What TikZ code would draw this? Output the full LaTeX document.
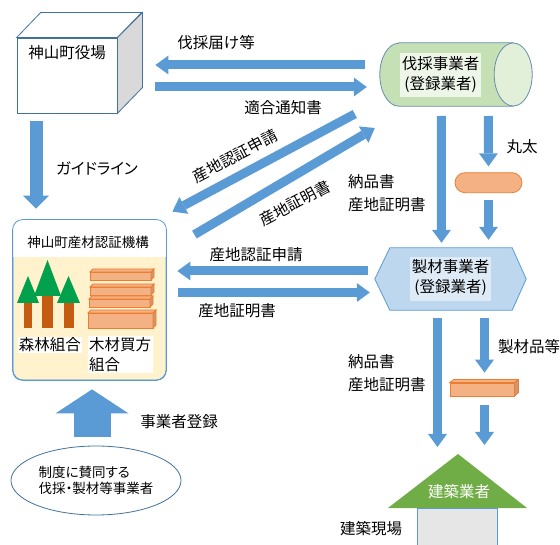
\documentclass[tikz,border=0pt]{standalone}
\usepackage{fontspec}
\newfontfamily\jpfont{Noto Sans CJK JP}
\newfontfamily\jppfont{Noto Sans CJK JP}[RawFeature=+palt]
\usetikzlibrary{shapes.geometric, shapes.misc, arrows.meta, calc, backgrounds}

\definecolor{flowblue}{HTML}{5B9BD5}
\definecolor{edgeblue}{HTML}{41719C}
\definecolor{cubeside}{HTML}{D9D9D9}
\definecolor{cylbody}{HTML}{C5E0B4}
\definecolor{cylend}{HTML}{E2F0D9}
\definecolor{cyltext}{HTML}{EEF5E9}
\definecolor{certfill}{HTML}{FFF2CC}
\definecolor{treegreen}{HTML}{00A04C}
\definecolor{trunkbrown}{HTML}{C55A11}
\definecolor{woodfill}{HTML}{F4B183}
\definecolor{woodline}{HTML}{ED7D31}
\definecolor{hexfill}{HTML}{BDD7EE}
\definecolor{hextext}{HTML}{DEEBF7}
\definecolor{roofgreen}{HTML}{70AD47}
\definecolor{sitefill}{HTML}{E7E6E6}

\setlength{\fboxsep}{2pt}

\begin{document}
\begin{tikzpicture}[x=1pt, y=-1pt, every node/.style={font=\jpfont\fontsize{15.5}{20}\selectfont, inner sep=0pt}]
\useasboundingbox (0,0) rectangle (560,545);
\tikzstyle{blockarrow} = [draw=flowblue, line width=9pt, -{Triangle[width=19pt, length=13pt, line width=0pt]}]
\tikzstyle{widearrow} = [draw=flowblue, line width=13pt, -{Triangle[width=26pt, length=13pt, line width=0pt]}]
\tikzstyle{bigarrow} = [draw=flowblue, line width=37pt, -{Triangle[width=73pt, length=24pt, line width=0pt]}]
\tikzstyle{twoline} = [align=left, anchor=west, font=\jpfont\fontsize{15.5}{23}\selectfont]
\tikzstyle{smalltext} = [font=\jpfont\fontsize{13.5}{15.5}\selectfont]
\tikzstyle{plank} = [draw=woodline, fill=woodfill, line width=0.8pt]
% Nodes
% town office as a box
\node (town) [draw=edgeblue, fill=white, line width=0.8pt, minimum width=100pt, minimum height=75pt] at (67,75.5) {};
\filldraw[draw=edgeblue, fill=white, line width=0.8pt] (town.north west) -- ++(24,-25) -- ++(101,0) -- (town.north east) -- cycle;
\filldraw[draw=edgeblue, fill=cubeside, line width=0.8pt] (town.north east) -- ++(25,-25) -- ++(0,75) -- (town.south east) -- cycle;
\node (townname) at (67,53) {神山町役場};

% loggers: a log lying on its side
\node (logger) [minimum width=121pt, minimum height=63pt] at (440.5,75.5) {\colorbox{cyltext}{\begin{tabular}{@{}c@{}}伐採事業者\\(登録業者)\end{tabular}}};
\begin{scope}[on background layer]
\filldraw[draw=edgeblue!80, fill=cylbody, line width=0.8pt] ($(logger.north west)+(19,-1)$) -- ($(logger.north east)+(12,-1)$) -- ($(logger.south east)+(12,-1)$) -- ($(logger.south west)+(19,-1)$) arc[start angle=270, end angle=90, x radius=19pt, y radius=31.5pt] -- cycle;
\filldraw[draw=edgeblue!80, fill=cylend, line width=0.8pt] ($(logger.east)+(12,-1)$) ellipse[x radius=19pt, y radius=31.5pt];
\end{scope}

% certification body
\node (cert) [draw=flowblue, fill=certfill, line width=0.8pt, rounded corners=10pt, minimum width=153pt, minimum height=160pt] at (89.5,300) {};
\begin{scope}
\clip[rounded corners=10pt] (cert.south west) rectangle (cert.north east);
\fill[white] (cert.north west) rectangle ($(cert.north east)+(0,37)$);
\end{scope}
\draw[flowblue, line width=0.8pt, rounded corners=10pt] (cert.south west) rectangle (cert.north east);
\node (certname) [smalltext] at (88,242) {神山町産材認証機構};
\foreach \x/\top/\base/\half/\tw in {28/276/303/11/4, 47.5/260/296/13.5/5.5, 68.5/276/303/11.5/5}{
  \fill[trunkbrown] (\x-\tw,\base-3) rectangle (\x+\tw,328);
  \fill[treegreen] (\x,\top) -- (\x+\half,\base) -- (\x-\half,\base) -- cycle;
}
\foreach \xa/\ya/\xb/\yb in {90/272/151/280, 90/287/151/295, 89/299/150/307, 88/313/153/328}{
  \filldraw[plank] (\xa,\ya) rectangle (\xb,\yb);
  \filldraw[plank, fill=woodfill!85!black] (\xb,\ya) -- ++(3,-3) -- ++(0,\yb-\ya) -- (\xb,\yb) -- cycle;
  \filldraw[plank] (\xa,\ya) -- ++(3,-3) -- (\xb+3,\ya-3) -- (\xb,\ya) -- cycle;
}
\node (forest) [fill=white, inner sep=1pt] at (50,345) {森林組合};
\node (buyers) [fill=white, inner sep=1pt, align=left, anchor=north west, text width=63pt] at (88,336) {木材買方\\組合};

% sawmill
\node (sawmill) [minimum width=151pt, minimum height=62pt] at (450.5,279) {\colorbox{hextext}{\begin{tabular}{@{}c@{}}製材事業者\\(登録業者)\end{tabular}}};
\begin{scope}[on background layer]
\filldraw[draw=flowblue, fill=hexfill, line width=0.8pt] (sawmill.west) -- ($(sawmill.north west)+(15,0)$) -- ($(sawmill.north east)+(-14,0)$) -- (sawmill.east) -- ($(sawmill.south east)+(-14,0)$) -- ($(sawmill.south west)+(15,0)$) -- cycle;
\end{scope}

\node (log) [rounded rectangle, draw=woodline, fill=woodfill, line width=0.8pt, minimum width=67pt, minimum height=20pt] at (488.5,182.7) {};
\node (product) [plank, minimum width=64pt, minimum height=13pt] at (482,389.5) {};
\filldraw[plank, fill=woodfill!85!black] (product.north east) -- ++(4,-3) -- ++(0,13) -- (product.south east) -- cycle;
\filldraw[plank] (product.north west) -- ++(4,-3) -- ++(64,0) -- (product.north east) -- cycle;

% building site
\coordinate (roof) at (458,454);
\fill[roofgreen] (roof) -- ++(69,54) -- ++(-139,0) -- cycle;
\filldraw[draw=flowblue, fill=sitefill, line width=0.8pt] (417,508) rectangle (497,550);
\node (builder) [text=white] at (459,492) {建築業者};

\node (applicants) [ellipse, draw=edgeblue, line width=0.8pt, minimum width=170pt, minimum height=69pt, align=left, font=\jppfont\fontsize{13.5}{15.5}\selectfont] at (96,480.5) {制度に賛同する\\伐採・製材等事業者};

% Arrows
\draw [blockarrow] ($(logger.west)+(-15,-10.5)$) -- ($(town.east)+(38,-10.5)$);
\draw [blockarrow] ($(town.east)+(38,11.5)$) -- ($(logger.west)+(-13,11.5)$);
\draw [blockarrow] ($(logger.west)+(-25,38.5)$) -- ($(cert.north east)+(6,-8)$);
\draw [blockarrow] ($(cert.north east)+(28,15)$) -- ($(logger.west)+(-5,52.5)$);
\draw [widearrow] ($(town.south)+(-31,8)$) -- ($(cert.north)+(-53.5,-11)$);
\draw [blockarrow] ($(sawmill.west)+(-7,-8)$) -- ($(cert.east)+(11,-29)$);
\draw [blockarrow] ($(cert.east)+(12,-7.5)$) -- ($(sawmill.west)+(-5,13.5)$);
\draw [blockarrow] ($(logger.west)+(61.5,40.5)$) -- ($(sawmill.north)+(-9,-5)$);
\draw [blockarrow] ($(logger.west)+(108.5,40.5)$) -- ($(log.north)+(0,-6)$);
\draw [blockarrow] ($(log.south)+(0,7)$) -- ($(sawmill.north)+(38,-8)$);
\draw [blockarrow] ($(sawmill.south)+(-13,8)$) -- ($(roof)+(-20.5,-7)$);
\draw [blockarrow] ($(sawmill.south)+(34,8)$) -- ($(product.north)+(2.5,-10)$);
\draw [blockarrow] ($(product.south)+(2.5,9)$) -- ($(roof)+(26.5,-9)$);
\draw [bigarrow] ($(applicants.north)+(-4,-9)$) -- ($(cert.south)+(2.5,9)$);

% Labels
\node (notice) at (216,43) {伐採届け等};
\node (approval) at (283,108) {適合通知書};
\node (guideline) [font=\jppfont\fontsize{15.5}{20}\selectfont] at (97,168) {ガイドライン};
\node (apply1) [rotate=28] at (235,156) {産地認証申請};
\node (proof1) [rotate=28] at (295,203) {産地証明書};
\node (docs1) [twoline] at (348,193.5) {納品書\\産地証明書};
\node (logs) at (522,147) {丸太};
\node (apply2) at (256,255) {産地認証申請};
\node (proof2) at (237,311) {産地証明書};
\node (goods) at (529,347) {製材品等};
\node (docs2) [twoline] at (348,373.5) {納品書\\産地証明書};
\node (register) at (179,422) {事業者登録};
\node (site) at (371,529) {建築現場};
\end{tikzpicture}
\end{document}
